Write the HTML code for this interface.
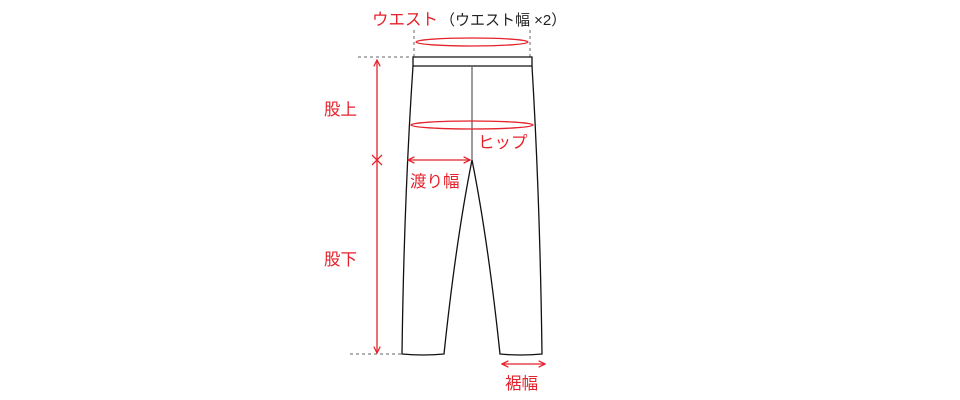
<!DOCTYPE html>
<html><head><meta charset="utf-8"><style>
body{margin:0;background:#fff;width:960px;height:400px;overflow:hidden}
svg{display:block}
text{font-family:"Liberation Sans","Noto Sans CJK JP",sans-serif}
</style></head><body>
<svg width="960" height="400" viewBox="0 0 960 400">
<defs>
<marker id="a" viewBox="0 0 10 10" refX="9" refY="5" markerWidth="8" markerHeight="8" orient="auto-start-reverse" markerUnits="userSpaceOnUse"><path d="M1 1L9 5L1 9" fill="none" stroke="#e5222b" stroke-width="1.6"/></marker>
</defs>
<g stroke="#666" stroke-width="1" stroke-dasharray="3,3" fill="none">
<line x1="414" y1="30" x2="414" y2="57"/><line x1="530" y1="30" x2="530" y2="57"/>
<line x1="358" y1="57" x2="412" y2="57"/><line x1="350" y1="354" x2="402" y2="354"/>
</g>
<g stroke="#111" stroke-width="1.3" fill="none">
<path d="M413 57L532 57L532 66L413 66Z"/>
<path d="M413 66Q404 200 402 354Q423 356 444 354Q456 240 472 160Q488 240 500 354Q521 356 542 354Q540 200 532 66"/>
</g>
<line x1="472" y1="66" x2="472" y2="160" stroke="#666" stroke-width="1.3"/>
<g stroke="#e5222b" stroke-width="1.3" fill="none">
<ellipse cx="472" cy="42" rx="56" ry="4"/>
<ellipse cx="472" cy="125" rx="61" ry="4"/>
<line x1="377" y1="60" x2="377" y2="353" marker-start="url(#a)" marker-end="url(#a)"/>
<path d="M372 155L382 165M382 155L372 165"/>
<line x1="408" y1="160" x2="470" y2="160" marker-start="url(#a)" marker-end="url(#a)"/>
<line x1="502" y1="364" x2="545" y2="364" marker-start="url(#a)" marker-end="url(#a)"/>
</g>
<g fill="#e5222b" font-size="16.5">
<text x="372" y="25">ウエスト</text>
<text x="324" y="115">股上</text>
<text x="324" y="265">股下</text>
<text x="478" y="148">ヒップ</text>
<text x="410" y="187">渡り幅</text>
<text x="505" y="389">裾幅</text>
</g>
<text x="440" y="25" font-size="15" fill="#222">（ウエスト幅 ×2）</text>
</svg>
</body></html>
